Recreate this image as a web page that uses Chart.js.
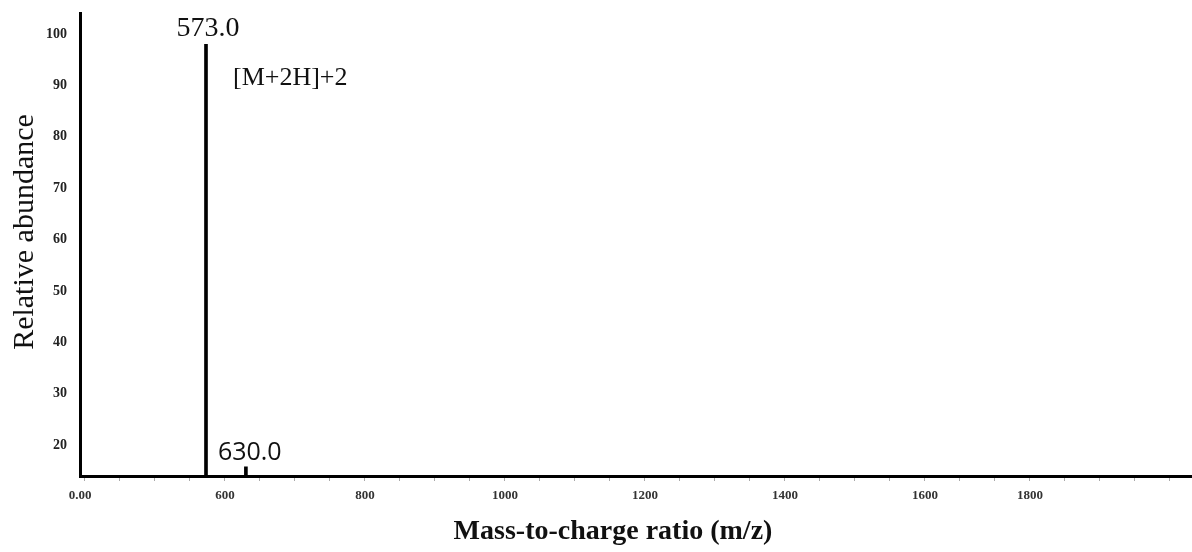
<!DOCTYPE html>
<html>
<head>
<meta charset="utf-8">
<script src="https://cdn.jsdelivr.net/npm/chart.js@4.4.1/dist/chart.umd.min.js"></script>
<style>
  body { margin: 0; background: #fff; }
  #wrap { width: 1192px; height: 552px; }
</style>
</head>
<body>
<div id="wrap"><canvas id="spectrum"></canvas></div>
<script>
// peaks
const peakMz = [573.0, 630.0];
const peakAbundance = [98, 15.8];
const peakLabels = ['573.0', '630.0'];
const ionLabel = '[M+2H]+2';

// x axis is broken: its origin carries the label 0.00
const xTickValues = [393, 600, 800, 1000, 1200, 1400, 1600, 1750];
const xTickLabels = ['0.00', '600', '800', '1000', '1200', '1400', '1600', '1800'];
const xMinorTicks = [400, 450, 500, 550, 600, 650, 700, 750, 800, 850, 900, 950, 1000, 1050,
  1100, 1150, 1200, 1250, 1300, 1350, 1400, 1450, 1500, 1550, 1600, 1650, 1700, 1750,
  1800, 1850, 1900, 1950];
const yTickValues = [20, 30, 40, 50, 60, 70, 80, 90, 100];

const xMin = 393, xMax = 1981.6;
const yMin = 14, yMax = 104;

const serif = '"Liberation Serif", "Times New Roman", serif';

const xAllTicks = Array.from(new Set([xTickValues[0], ...xMinorTicks])).sort((a, b) => a - b);

// labels and axis titles drawn on top of the chart
const labelsPlugin = {
  id: 'peakLabels',
  afterDraw(chart) {
    const ctx = chart.ctx;
    const x = chart.scales.x, y = chart.scales.y;
    ctx.save();
    ctx.fillStyle = '#111';
    ctx.textBaseline = 'alphabetic';

    // main peak
    ctx.font = '28px ' + serif;
    ctx.textAlign = 'center';
    ctx.fillText(peakLabels[0], x.getPixelForValue(peakMz[0]) + 2, y.getPixelForValue(peakAbundance[0]) - 8);

    ctx.font = '26px ' + serif;
    ctx.textAlign = 'left';
    ctx.fillText(ionLabel, x.getPixelForValue(peakMz[0]) + 27, y.getPixelForValue(90));

    // small peak
    ctx.font = '25px "Open Sans", sans-serif';
    ctx.fillText(peakLabels[1], x.getPixelForValue(peakMz[1]) - 28, y.getPixelForValue(peakAbundance[1]) - 7);

    // axis titles
    ctx.font = 'bold 28px ' + serif;
    ctx.textAlign = 'center';
    ctx.fillText('Mass-to-charge ratio (m/z)', 613, 539);

    ctx.font = '30px ' + serif;
    ctx.translate(33, 232);
    ctx.rotate(-Math.PI / 2);
    ctx.fillText('Relative abundance', 0, 0);
    ctx.restore();
  }
};

new Chart(document.getElementById('spectrum'), {
  type: 'bar',
  data: {
    datasets: [{
      data: peakMz.map((mz, i) => ({ x: mz, y: peakAbundance[i] })),
      backgroundColor: '#000',
      barThickness: 3,
      base: yMin
    }]
  },
  options: {
    responsive: true,
    maintainAspectRatio: false,
    animation: false,
    layout: { padding: { top: 12, left: 0, right: 0, bottom: 0 } },
    plugins: { legend: { display: false }, tooltip: { enabled: false } },
    scales: {
      x: {
        type: 'linear',
        offset: false,
        min: xMin,
        max: xMax,
        afterBuildTicks: s => { s.ticks = xAllTicks.map(v => ({ value: v })); },
        afterFit: s => { s.height = 76; },
        grid: {
          display: true,
          offset: false,
          drawOnChartArea: false,
          drawTicks: true,
          tickLength: 5,
          lineWidth: 1,
          color: c => (c.tick && c.tick.value === xTickValues[0]) ? 'rgba(0,0,0,0)' : '#aaa'
        },
        border: { display: true, color: '#000', width: 3 },
        ticks: {
          autoSkip: false,
          maxRotation: 0,
          padding: 7,
          color: '#333',
          font: { family: serif, size: 13, weight: 'bold' },
          callback: v => {
            const i = xTickValues.indexOf(v);
            return i >= 0 ? xTickLabels[i] : '';
          }
        }
      },
      y: {
        min: yMin,
        max: yMax,
        afterBuildTicks: s => { s.ticks = yTickValues.map(v => ({ value: v })); },
        afterFit: s => { s.width = 80; },
        grid: { display: false },
        border: { display: true, color: '#000', width: 3 },
        ticks: {
          padding: 5,
          color: '#222',
          font: { family: serif, size: 14, weight: 'bold' }
        }
      }
    }
  },
  plugins: [labelsPlugin]
});
</script>
</body>
</html>
